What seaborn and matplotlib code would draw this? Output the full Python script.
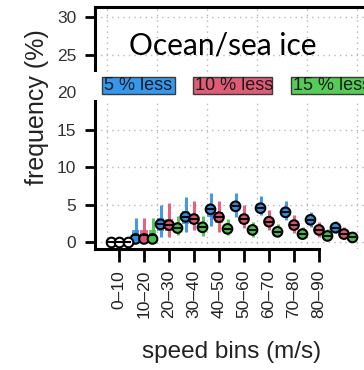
import matplotlib
matplotlib.use("Agg")
import matplotlib.pyplot as plt
import numpy as np
import pandas as pd
import seaborn as sns
from matplotlib.patches import Rectangle

# Speed bins (bin centres in m/s) and the labels printed on the axis
bin_centres = [5, 15, 25, 35, 45, 55, 65, 75, 85, 95]
tick_labels = ["0–10", "10–20", "20–30", "30–40", "40–50",
               "50–60", "60–70", "70–80", "80–90"]
series = ["5 % less", "10 % less", "15 % less"]

# 5 % less
mean_5 = [0, 0.45, 2.4, 3.4, 4.4, 4.8, 4.55, 4.0, 3.0, 1.95]
med_5 = [0, 1.0, 2.4, 3.4, 4.4, 4.8, 4.55, 4.0, 3.0, 1.95]
q1_5 = [0, 0, 1.5, 2.4, 3.4, 4.2, 4.0, 3.5, 2.6, 1.6]
q3_5 = [0, 1.7, 3.3, 4.2, 5.0, 5.3, 5.0, 4.4, 3.4, 2.3]
lo_5 = [0, 0, 0.75, 1.4, 2.2, 3.4, 3.65, 3.0, 2.1, 1.2]
hi_5 = [0, 3.2, 5.0, 6.1, 6.55, 6.55, 6.2, 5.45, 4.1, 2.9]

# 10 % less
mean_10 = [0, 0.45, 2.3, 3.1, 3.35, 3.1, 2.75, 2.3, 1.65, 1.1]
med_10 = [0, 1.0, 2.3, 3.1, 3.35, 3.1, 2.75, 2.3, 1.65, 1.1]
q1_10 = [0, 0, 1.5, 2.4, 2.6, 2.5, 2.2, 1.8, 1.3, 0.8]
q3_10 = [0, 1.7, 3.1, 3.8, 4.1, 3.7, 3.3, 2.8, 2.1, 1.4]
lo_10 = [0, 0, 0.7, 1.65, 1.4, 1.9, 1.65, 1.2, 0.75, 0.55]
hi_10 = [0, 3.2, 5.2, 5.5, 5.5, 5.0, 4.3, 3.65, 2.75, 2.0]

# 15 % less
mean_15 = [0, 0.45, 1.9, 2.0, 1.8, 1.65, 1.4, 1.1, 0.85, 0.65]
med_15 = [0, 1.0, 1.9, 2.0, 1.8, 1.65, 1.4, 1.1, 0.85, 0.65]
q1_15 = [0, 0, 1.5, 1.6, 1.4, 1.3, 1.1, 0.8, 0.6, 0.45]
q3_15 = [0, 1.7, 2.4, 2.6, 2.3, 2.1, 1.8, 1.5, 1.2, 0.9]
lo_15 = [0, 0, 1.0, 0.85, 1.0, 0.75, 0.7, 0.45, 0.3, 0.2]
hi_15 = [0, 3.2, 3.45, 3.45, 3.1, 2.75, 2.5, 2.1, 1.75, 1.2]

mark_colors = ["#2b8fe2", "#e2526f", "#43c243"]
key_colors = ["#3399ee", "#df5b76", "#55cc55"]
offsets = [-3.4, 0.0, 3.4]

frames = []
for name, off, m, md, a, b, lo, hi in zip(
        series, offsets,
        [mean_5, mean_10, mean_15], [med_5, med_10, med_15],
        [q1_5, q1_10, q1_15], [q3_5, q3_10, q3_15],
        [lo_5, lo_10, lo_15], [hi_5, hi_10, hi_15]):
    frames.append(pd.DataFrame({
        "series": name, "x": np.array(bin_centres) + off,
        "mean": m, "median": md, "q1": a, "q3": b, "lo": lo, "hi": hi}))
df = pd.concat(frames, ignore_index=True)

sns.set_theme(style="white")
plt.rcParams["font.family"] = ["Liberation Sans", "DejaVu Sans"]

fig = plt.figure(figsize=(3.64, 3.70), dpi=100)
ax = fig.add_axes([95 / 364, 121 / 370, 286.5 / 364, 242 / 370])
ax.set_xlim(-4.6, 110)
ax.set_ylim(-0.89, 31.37)

# dotted reference grid
for gx in range(0, 101, 20):
    ax.axvline(gx, color="#b8b8b8", lw=1.0, ls=(0, (1, 3)), zorder=0)
for gy in range(0, 31, 5):
    ax.axhline(gy, color="#b8b8b8", lw=1.0, ls=(0, (1, 3)), zorder=0)

palette = dict(zip(series, mark_colors))
box_w = 3.0
for _, r in df.iterrows():
    c = palette[r["series"]]
    ax.vlines(r["x"], r["lo"], r["hi"], color=c, lw=2.2, zorder=2, alpha=0.9)
    ax.bar(r["x"], r["q3"] - r["q1"], bottom=r["q1"], width=box_w,
           color=c, alpha=0.85, lw=0, zorder=2)

nonzero = df[df["mean"] > 0]
zero = df[df["mean"] == 0]
sns.scatterplot(data=nonzero, x="x", y="mean", hue="series", palette=palette,
                s=48, edgecolor="black", linewidth=1.5, legend=False,
                zorder=4, ax=ax)
sns.scatterplot(data=zero, x="x", y="mean", color="white", s=48,
                edgecolor="black", linewidth=1.5, legend=False,
                zorder=4, ax=ax)
# median ticks through the markers
ax.hlines(df["median"], df["x"] - 1.5, df["x"] + 1.5, color="black",
          lw=1.5, zorder=5)

# axes styling
ax.spines["right"].set_visible(False)
for side in ["left", "bottom", "top"]:
    ax.spines[side].set_color("black")
    ax.spines[side].set_linewidth(2.2)
ax.spines["bottom"].set_bounds(-4.6, bin_centres[len(tick_labels) - 1])
ax.set_xticks(bin_centres[:len(tick_labels)])
ax.set_xticklabels(tick_labels, rotation=90, fontsize=12.5, color="#222222")
ax.set_yticks(range(0, 31, 5))
ax.set_yticklabels([str(v) for v in range(0, 31, 5)], fontsize=12.5,
                   color="#333333")
ax.tick_params(axis="x", length=9, width=2, pad=6, color="black",
               bottom=True)
ax.tick_params(axis="y", length=7.5, width=2, pad=6, color="black",
               left=True)
ax.set_xlabel("")
ax.set_ylabel("")

fig.text(37 / 364, 1 - 107 / 370, "frequency (%)", rotation=90,
         ha="center", va="center", fontsize=18, color="#222222")
fig.text(232 / 364, 1 - 352 / 370, "speed bins (m/s)", ha="center",
         va="center", fontsize=17.5, color="#222222")

# white strip carrying the colour key
fig.patches.append(Rectangle((82 / 364, 1 - 100 / 370), 1, 28 / 370,
                             transform=fig.transFigure, facecolor="white",
                             edgecolor="none", zorder=5))
key_left = [102, 193, 291]
key_width = [73, 79, 79]
for name, fill, kx, kw in zip(series, key_colors, key_left, key_width):
    fig.patches.append(Rectangle((kx / 364, 1 - 94 / 370), kw / 364, 17 / 370,
                                 transform=fig.transFigure, facecolor=fill,
                                 edgecolor="#3a3a3a", lw=1.0, zorder=6))
    fig.text((kx + 2) / 364, 1 - 85.5 / 370, name, ha="left", va="center",
             fontsize=13, color="#1a1a1a", zorder=7)

fig.text(223 / 364, 1 - 55 / 370, "Ocean/sea ice", ha="center",
         va="baseline", fontsize=21.5, family=["Lato", "DejaVu Sans"],
         color="black", zorder=7)

fig.savefig("out.png", dpi=100)
